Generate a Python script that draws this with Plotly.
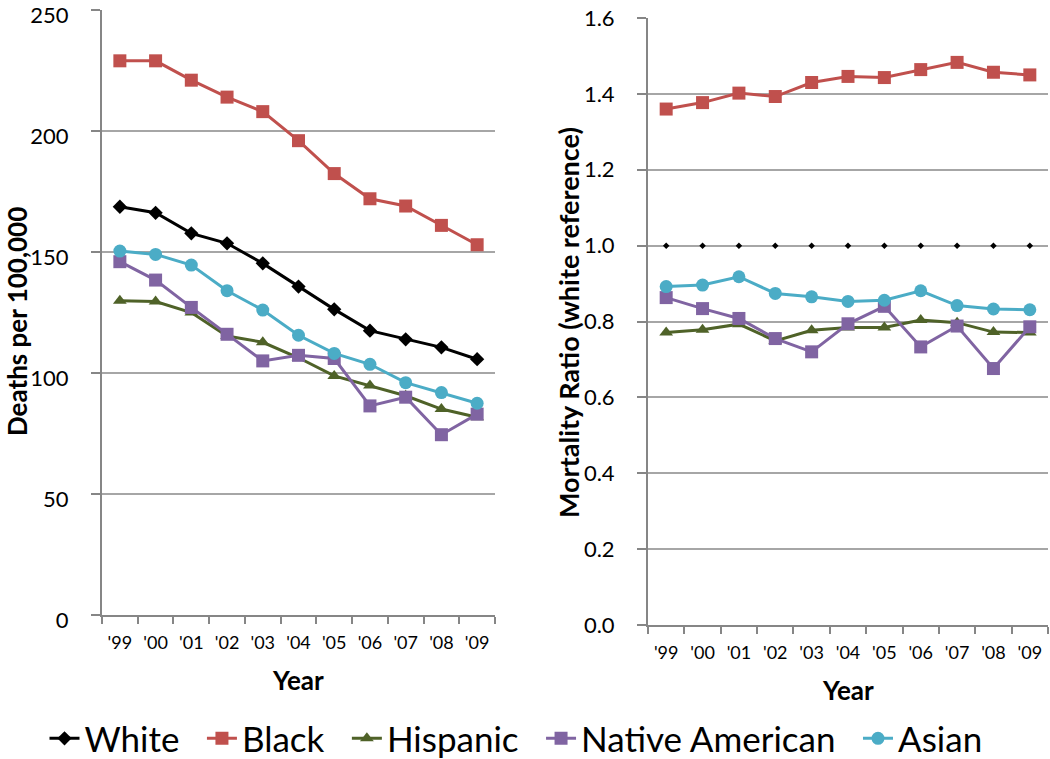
import plotly.graph_objects as go

years = ["'99", "'00", "'01", "'02", "'03", "'04", "'05", "'06", "'07", "'08", "'09"]

# Deaths per 100,000
white_rate = [168.7, 166.2, 157.7, 153.6, 145.3, 135.7, 126.3, 117.5, 113.9, 110.6, 105.7]
black_rate = [229, 229, 221, 214, 208, 196, 182.4, 172, 169, 161, 153]
hispanic_rate = [129.9, 129.5, 125, 115.3, 112.7, 106.3, 98.8, 94.8, 90.6, 85.1, 81.7]
native_rate = [146, 138.4, 127.1, 116, 105, 107.3, 106, 86.4, 90, 74.5, 83]
asian_rate = [150.4, 149, 144.6, 134, 126, 115.6, 108.1, 103.6, 96, 91.9, 87.5]

# Mortality ratio (white reference)
white_ratio = [1.0] * 11
black_ratio = [1.360, 1.377, 1.402, 1.393, 1.430, 1.446, 1.443, 1.464, 1.483, 1.457, 1.450]
hispanic_ratio = [0.771, 0.778, 0.793, 0.749, 0.777, 0.784, 0.784, 0.804, 0.797, 0.772, 0.771]
native_ratio = [0.863, 0.834, 0.808, 0.755, 0.720, 0.794, 0.840, 0.733, 0.788, 0.676, 0.786]
asian_ratio = [0.892, 0.896, 0.918, 0.874, 0.865, 0.853, 0.856, 0.881, 0.842, 0.833, 0.831]

names = ["White", "Black", "Hispanic", "Native American", "Asian"]
colors = ["#000000", "#C0504D", "#4F6228", "#8064A2", "#4BACC6"]
symbols = ["diamond", "square", "triangle-up", "square", "circle"]
sizes = [11, 13, 12, 13, 13]

FONT = "Lato, Carlito, sans-serif"
GAP = "\u2002"  # spacing after legend entries

fig = go.Figure()

left = [white_rate, black_rate, hispanic_rate, native_rate, asian_rate]
right = [white_ratio, black_ratio, hispanic_ratio, native_ratio, asian_ratio]

for i in range(5):
    fig.add_trace(go.Scatter(
        x=years, y=left[i], name=names[i] + GAP, mode="lines+markers",
        line=dict(color=colors[i], width=3),
        marker=dict(symbol=symbols[i], size=sizes[i], color=colors[i]),
        xaxis="x", yaxis="y", showlegend=True))

for i in range(5):
    if i == 0:
        fig.add_trace(go.Scatter(
            x=years, y=right[i], name=names[i], mode="markers",
            marker=dict(symbol="diamond", size=5, color=colors[i]),
            xaxis="x2", yaxis="y2", showlegend=False))
    else:
        fig.add_trace(go.Scatter(
            x=years, y=right[i], name=names[i], mode="lines+markers",
            line=dict(color=colors[i], width=3),
            marker=dict(symbol=symbols[i], size=sizes[i], color=colors[i]),
            xaxis="x2", yaxis="y2", showlegend=False))

axis_col = "#868686"
grid_col = "#A6A6A6"

xcommon = dict(type="category", tickson="boundaries", ticks="outside", ticklen=7,
               tickcolor=axis_col, tickwidth=1.5, showline=True, linecolor=axis_col, linewidth=2,
               showgrid=False, range=[-0.5, 10.5], ticklabelstandoff=10, automargin=False,
               ticklabeloverflow="allow",
               tickfont=dict(size=18, color="#000000", family=FONT),
               fixedrange=True)
ycommon = dict(showgrid=True, gridcolor=grid_col, gridwidth=2, automargin=False,
               showline=True, linecolor=axis_col, linewidth=2, ticks="outside", ticklen=9,
               tickcolor=axis_col, tickwidth=2, zeroline=False, ticklabelstandoff=18,
               ticklabeloverflow="allow",
               tickfont=dict(size=22, family=FONT, color="#000000"), fixedrange=True)

fig.update_layout(
    width=1050, height=759,
    margin=dict(l=0, r=0, t=0, b=0, autoexpand=False),
    paper_bgcolor="white", plot_bgcolor="white",
    font=dict(family=FONT, color="#000000"),
    xaxis=dict(domain=[102/1050, 495/1050], anchor="y", **xcommon),
    xaxis2=dict(domain=[648/1050, 1048/1050], anchor="y2", **xcommon),
    yaxis=dict(domain=[(759-615)/759, (759-10)/759], anchor="x", range=[0, 250],
               tickvals=[0, 50, 100, 150, 200, 250], ticklabelshift=5, **ycommon),
    yaxis2=dict(domain=[(759-625)/759, (759-18)/759], anchor="x2", range=[0, 1.6],
                tickvals=[0, 0.2, 0.4, 0.6, 0.8, 1.0, 1.2, 1.4, 1.6], tickformat=".1f", **ycommon),
    legend=dict(orientation="h", x=0.5, xanchor="center", y=-0.012, yanchor="bottom",
                font=dict(size=35, family=FONT), tracegroupgap=0,
                bgcolor="rgba(0,0,0,0)"),
    annotations=[
        dict(text="<b>Deaths per 100,000</b>", x=17/1050, y=(759-322)/759, xref="paper", yref="paper",
             textangle=-90, showarrow=False, font=dict(size=26, family=FONT), xanchor="center", yanchor="middle"),
        dict(text="<b>Mortality Ratio (white reference)</b>", x=568/1050, y=(759-323)/759, xref="paper", yref="paper",
             textangle=-90, showarrow=False, font=dict(size=27, family=FONT), xanchor="center", yanchor="middle"),
        dict(text="<b>Year</b>", x=298/1050, y=(759-680)/759, xref="paper", yref="paper",
             showarrow=False, font=dict(size=26, family=FONT), xanchor="center", yanchor="middle"),
        dict(text="<b>Year</b>", x=848/1050, y=(759-690)/759, xref="paper", yref="paper",
             showarrow=False, font=dict(size=26, family=FONT), xanchor="center", yanchor="middle"),
    ],
)

fig.write_html("out.html", config={"displayModeBar": False},
               post_script="document.body.style.margin='0';document.body.style.overflow='hidden';")
